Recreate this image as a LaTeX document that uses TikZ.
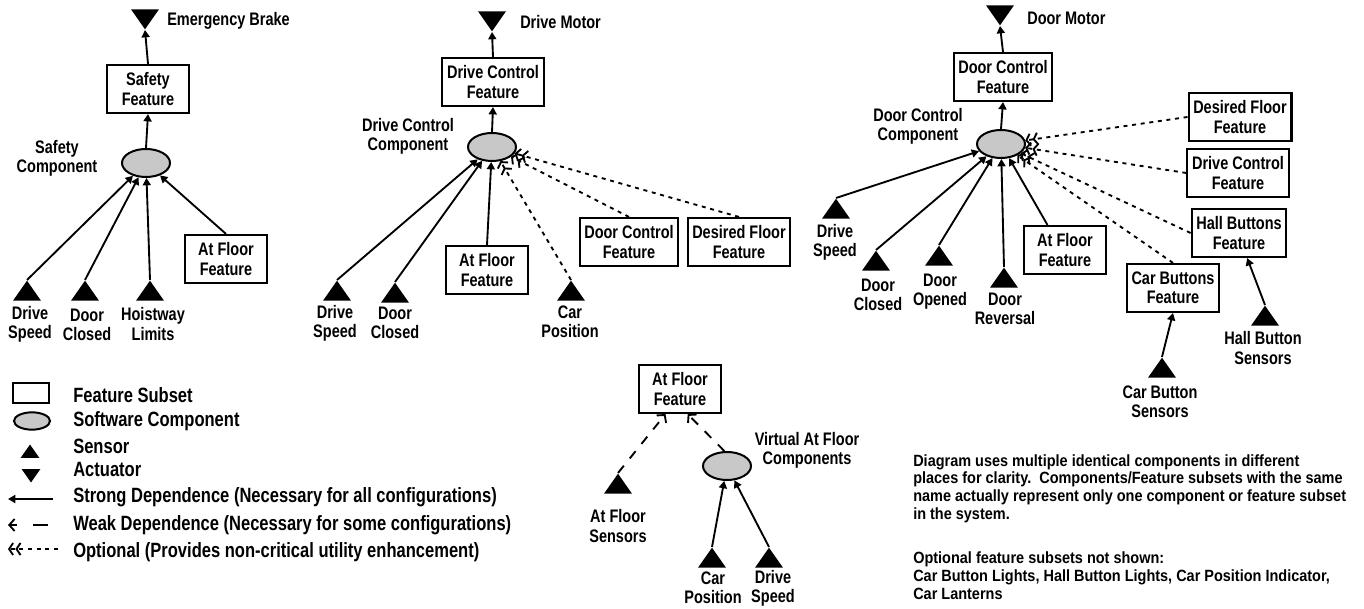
\documentclass[tikz,border=0pt]{standalone}
\usepackage{fontspec}
\setmainfont[FakeStretch=0.80]{Liberation Sans}
\newfontfamily\notefont[FakeStretch=0.89]{Liberation Sans}
\usetikzlibrary{shapes.geometric,arrows.meta}
\definecolor{compgray}{RGB}{200,200,200}
\newcommand{\tightlines}{\lineskiplimit=-10pt\relax}

\tikzset{
  feat/.style={draw, line width=1.6pt, align=center, inner xsep=3.5pt, inner ysep=2pt, minimum width=61pt, minimum height=36pt},
  comp/.style={draw, ellipse, line width=1.5pt, fill=compgray, minimum width=36pt, minimum height=21pt},
  sensor/.style={isosceles triangle, isosceles triangle stretches, shape border rotate=90, fill=black, inner sep=0pt, minimum width=21pt, minimum height=15pt},
  actuator/.style={sensor, shape border rotate=270},
  strong/.style={line width=1.4pt, -{Triangle[length=5.5pt,width=6pt]}},
  weak/.style={line width=1.4pt, dash pattern=on 7pt off 7pt, -{Straight Barb[length=4pt,width=9pt]}},
  opt/.style={line width=1.4pt, dash pattern=on 3pt off 3.5pt, -{Straight Barb[length=3pt,width=9pt,sep=1pt] Straight Barb[length=3pt,width=9pt]}},
  lbl/.style={align=center, inner sep=0pt},
  legtxt/.style={lbl, anchor=base west, font=\fontsize{15.5}{17}\selectfont\bfseries}
}

\begin{document}
\begin{tikzpicture}[x=0.75pt,y=0.75pt,yscale=-1,xscale=1,font=\fontsize{13.6}{14.4}\selectfont\bfseries\tightlines]
  \useasboundingbox (0,0) rectangle (1364,609);

  %Safety part
  \node[actuator, anchor=apex] (eb) at (145,30) {};
  \node[lbl, anchor=west] (ebl) at (167,21) {Emergency Brake};
  \node[feat] (sf) at (148,89) {Safety\\Feature};
  \node[comp] (sc) at (146,163) {};
  \node[lbl] (scl) at (57,158) {Safety\\Component};
  \node[feat] (af1) at (226,259) {At Floor\\Feature};
  \node[sensor, anchor=apex] (ds1) at (27,280) {};
  \node[sensor, anchor=apex] (dc1) at (85,280) {};
  \node[sensor, anchor=apex] (hl1) at (150,280) {};
  \node[lbl] (ds1l) at (30,324) {Drive\\Speed};
  \node[lbl] (dc1l) at (87,325) {Door\\Closed};
  \node[lbl] (hl1l) at (153,324) {Hoistway\\Limits};

  \draw[strong] (sf.north) -- (eb.apex);
  \draw[strong] (sc.north) -- (sf.south);
  \draw[strong] (ds1.apex) -- (sc);
  \draw[strong] (dc1.apex) -- (sc);
  \draw[strong] (hl1.apex) -- (sc);
  \draw[strong] (af1.north) -- (sc);

  %Drive control part
  \node[actuator, anchor=apex] (dm) at (492,32) {};
  \node[lbl, anchor=west] (dml) at (520,22) {Drive Motor};
  \node[feat] (dcf) at (493,82) {Drive Control\\Feature};
  \node[comp] (dcc) at (492,147) {};
  \node[lbl] (dccl) at (408,136) {Drive Control\\Component};
  \node[feat] (af2) at (487,270) {At Floor\\Feature};
  \node[feat] (dcf2) at (629,242) {Door Control\\Feature};
  \node[feat] (dff2) at (739,242) {Desired Floor\\Feature};
  \node[sensor, anchor=apex] (ds2) at (337,280) {};
  \node[sensor, anchor=apex] (dc2) at (395,282) {};
  \node[sensor, anchor=apex] (cp2) at (571,280) {};
  \node[lbl] (ds2l) at (335,323) {Drive\\Speed};
  \node[lbl] (dc2l) at (395,323) {Door\\Closed};
  \node[lbl] (cp2l) at (570,322) {Car\\Position};

  \draw[strong] (dcf.north) -- (dm.apex);
  \draw[strong] (dcc.north) -- (dcf.south);
  \draw[strong] (ds2.apex) -- (dcc);
  \draw[strong] (dc2.apex) -- (dcc);
  \draw[strong] (af2.north) -- (dcc);
  \draw[opt] (cp2.apex) -- (dcc);
  \draw[opt] (dcf2.north) -- (dcc);
  \draw[opt] (dff2.north) -- (dcc);

  %Door control part
  \node[actuator, anchor=apex] (dmo) at (1000,26) {};
  \node[lbl, anchor=west] (dmol) at (1027,18) {Door Motor};
  \node[feat] (dcf3) at (1003,77) {Door Control\\Feature};
  \node[comp] (dcc3) at (1001,144) {};
  \node[lbl] (dcc3l) at (918,126) {Door Control\\Component};
  \node[feat] (af3) at (1065,250) {At Floor\\Feature};
  \node[feat] (dff3) at (1240,117) {Desired Floor\\Feature};
  \node[feat] (dcf4) at (1238,173) {Drive Control\\Feature};
  \node[feat] (hbf) at (1239,233) {Hall Buttons\\Feature};
  \node[feat] (cbf) at (1173,288) {Car Buttons\\Feature};
  \node[sensor, anchor=apex] (ds3) at (836,198) {};
  \node[sensor, anchor=apex] (dc3) at (876,250) {};
  \node[sensor, anchor=apex] (do3) at (939,245) {};
  \node[sensor, anchor=apex] (dr3) at (1004,267) {};
  \node[sensor, anchor=apex] (cbs) at (1162,357) {};
  \node[sensor, anchor=apex] (hbs) at (1265,305) {};
  \node[lbl] (ds3l) at (835,242) {Drive\\Speed};
  \node[lbl] (dc3l) at (878,295) {Door\\Closed};
  \node[lbl] (do3l) at (940,292) {Door\\Opened};
  \node[lbl] (dr3l) at (1005,309) {Door\\Reversal};
  \node[lbl] (cbsl) at (1160,402) {Car Button\\Sensors};
  \node[lbl] (hbsl) at (1263,348) {Hall Button\\Sensors};

  \draw[strong] (dcf3.north) -- (dmo.apex);
  \draw[strong] (dcc3.north) -- (dcf3.south);
  \draw[strong] (ds3.apex) -- (dcc3);
  \draw[strong] (dc3.apex) -- (dcc3);
  \draw[strong] (do3.apex) -- (dcc3);
  \draw[strong] (dr3.apex) -- (dcc3);
  \draw[strong] (af3.125) -- (dcc3);
  \draw[opt] (dff3.west) -- (dcc3);
  \draw[opt] (dcf4.west) -- (dcc3);
  \draw[opt] (hbf.west) -- (dcc3);
  \draw[opt] (cbf.north) -- (dcc3);
  \draw[strong] (cbs.apex) -- (cbf.south);
  \draw[strong] (hbs.apex) -- (hbf.-72);

  %Virtual at floor part
  \node[feat] (af4) at (680,389) {At Floor\\Feature};
  \node[comp] (vaf) at (727,466) {};
  \node[lbl] (vafl) at (807,450) {Virtual At Floor\\Components};
  \node[sensor, anchor=apex] (afs) at (618,473) {};
  \node[sensor, anchor=apex] (cp4) at (712,547) {};
  \node[sensor, anchor=apex] (ds4) at (769,547) {};
  \node[lbl] (afsl) at (618,526) {At Floor\\Sensors};
  \node[lbl] (cp4l) at (713,588) {Car\\Position};
  \node[lbl] (ds4l) at (773,588) {Drive\\Speed};

  \draw[weak] (afs.apex) -- (af4.240);
  \draw[weak] (vaf.100) -- (af4.287);
  \draw[strong] (cp4.apex) -- (vaf);
  \draw[strong] (ds4.apex) -- (vaf);

  %Legend
  \node[draw, line width=1.6pt, minimum width=27pt, minimum height=15pt] (lgf) at (31,393) {};
  \node[comp, minimum width=27pt, minimum height=13pt] (lgc) at (32,421) {};
  \node[sensor, minimum width=14pt, minimum height=10pt] (lgs) at (30,453) {};
  \node[actuator, minimum width=14pt, minimum height=10pt] (lga) at (31,474) {};
  \coordinate (ls1) at (53,499);
  \coordinate (ls0) at (8,499);
  \coordinate (lw1) at (48,525);
  \coordinate (lw0) at (8,525);
  \coordinate (lo1) at (58,549);
  \coordinate (lo0) at (8,549);
  \draw[strong] (ls1) -- (ls0);
  \draw[weak, dash pattern=on 11pt off 12pt] (lw1) -- (lw0);
  \draw[opt] (lo1) -- (lo0);
  \node[legtxt] at (73,403) {Feature Subset};
  \node[legtxt] at (73,427) {Software Component};
  \node[legtxt] at (73,454) {Sensor};
  \node[legtxt] at (73,477) {Actuator};
  \node[legtxt] at (73,503) {Strong Dependence (Necessary for all configurations)};
  \node[legtxt] at (73,530) {Weak Dependence (Necessary for some configurations)};
  \node[legtxt] at (73,557) {Optional (Provides non-critical utility enhancement)};

  % Text Node
  \node[lbl, align=left, anchor=north west, font=\notefont\fontsize{12.2}{13.3}\selectfont\bfseries\tightlines] (note) at (913,454) {Diagram uses multiple identical components in different\\places for clarity.\ \ Components/Feature subsets with the same\\name actually represent only one component or feature subset\\in the system.\\[20pt]Optional feature subsets not shown:\\Car Button Lights, Hall Button Lights, Car Position Indicator,\\Car Lanterns};
\end{tikzpicture}
\end{document}
